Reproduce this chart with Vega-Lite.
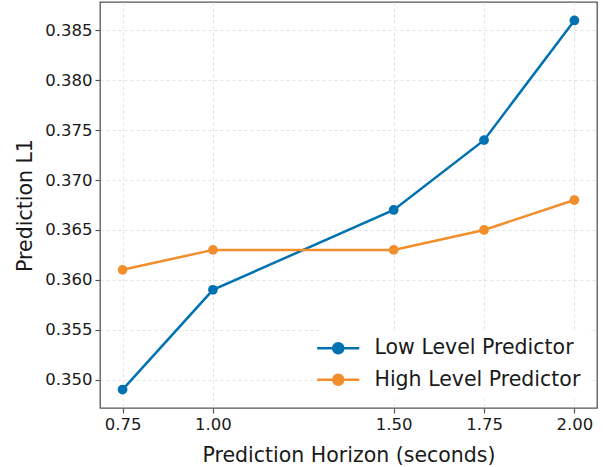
{
  "$schema": "https://vega.github.io/schema/vega-lite/v6.json",
  "width": 497,
  "height": 406,
  "autosize": "none",
  "padding": {"left": 100, "top": 2, "right": 6, "bottom": 59},
  "background": "white",
  "config": {
    "font": "DejaVu Sans",
    "view": {"stroke": "#555555", "strokeWidth": 1.3},
    "axis": {
      "domain": false,
      "grid": true,
      "gridColor": "#dcdcdc",
      "gridDash": [3, 3],
      "gridWidth": 0.8,
      "ticks": true,
      "tickColor": "#555555",
      "tickSize": 5,
      "tickWidth": 1.2,
      "labelFont": "DejaVu Sans",
      "labelFontSize": 16.5,
      "labelColor": "#1a1a1a",
      "labelPadding": 3,
      "titleFont": "DejaVu Sans",
      "titleFontSize": 20.5,
      "titleFontWeight": "normal",
      "titleColor": "#1a1a1a"
    }
  },
  "data": {
    "values": [
      {"horizon": 0.75, "model": "Low Level Predictor", "l1": 0.349},
      {"horizon": 1.0, "model": "Low Level Predictor", "l1": 0.359},
      {"horizon": 1.5, "model": "Low Level Predictor", "l1": 0.367},
      {"horizon": 1.75, "model": "Low Level Predictor", "l1": 0.374},
      {"horizon": 2.0, "model": "Low Level Predictor", "l1": 0.386},
      {"horizon": 0.75, "model": "High Level Predictor", "l1": 0.361},
      {"horizon": 1.0, "model": "High Level Predictor", "l1": 0.363},
      {"horizon": 1.5, "model": "High Level Predictor", "l1": 0.363},
      {"horizon": 1.75, "model": "High Level Predictor", "l1": 0.365},
      {"horizon": 2.0, "model": "High Level Predictor", "l1": 0.368}
    ]
  },
  "encoding": {
    "x": {
      "field": "horizon",
      "type": "quantitative",
      "scale": {"domain": [0.6875, 2.0625], "nice": false, "zero": false},
      "axis": {
        "values": [0.75, 1.0, 1.5, 1.75, 2.0],
        "format": ".2f",
        "title": "Prediction Horizon (seconds)",
        "titlePadding": 13
      }
    },
    "y": {
      "field": "l1",
      "type": "quantitative",
      "scale": {"domain": [0.34715, 0.38785], "nice": false, "zero": false},
      "axis": {
        "values": [0.35, 0.355, 0.36, 0.365, 0.37, 0.375, 0.38, 0.385],
        "format": ".3f",
        "title": "Prediction L1",
        "titlePadding": 9
      }
    },
    "color": {
      "field": "model",
      "type": "nominal",
      "scale": {
        "domain": ["Low Level Predictor", "High Level Predictor"],
        "range": ["#0072B2", "#F28E2B"]
      },
      "legend": {
        "title": null,
        "orient": "none",
        "legendX": 220,
        "legendY": 328,
        "padding": 8,
        "fillColor": "white",
        "strokeColor": null,
        "symbolType": "M-4.2,0L4.2,0M-1,0A1,1 0 1,0 1,0A1,1 0 1,0 -1,0",
        "symbolSize": 100,
        "symbolStrokeWidth": 2.5,
        "labelFont": "DejaVu Sans",
        "labelFontSize": 20.5,
        "labelColor": "#1a1a1a",
        "labelLimit": 300,
        "labelOffset": 26,
        "rowPadding": 10.5,
        "encode": {
          "symbols": {
            "update": {
              "fill": {"scale": "color", "field": "value"},
              "stroke": {"scale": "color", "field": "value"},
              "opacity": {"value": 1}
            }
          }
        }
      }
    }
  },
  "layer": [
    {"mark": {"type": "line", "strokeWidth": 2.5}},
    {"mark": {"type": "point", "filled": true, "size": 95, "opacity": 1}}
  ]
}
